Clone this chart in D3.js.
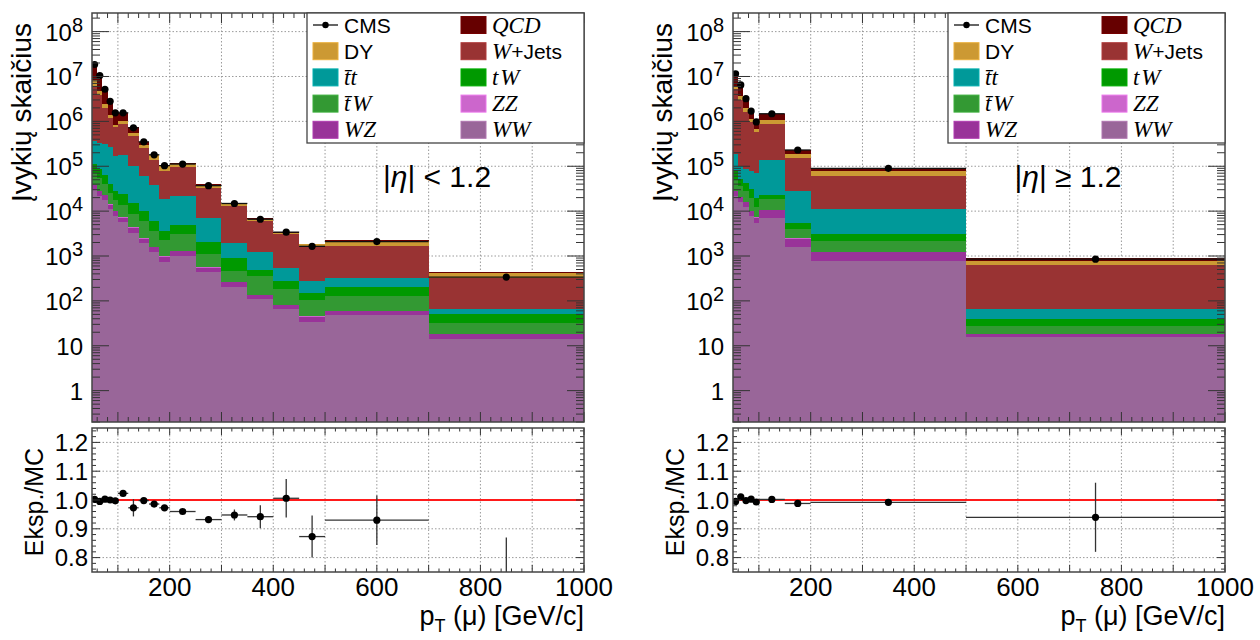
<!DOCTYPE html>
<html>
<head>
<meta charset="utf-8">
<script src="https://cdn.jsdelivr.net/npm/d3@7/dist/d3.min.js"></script>
<style>
html,body{margin:0;padding:0;background:#fff;}
svg text{font-family:"Liberation Sans",Arial,sans-serif;fill:#000;}
</style>
</head>
<body>
<svg id="chart" width="1260" height="640"></svg>
<script>
// ================= DATA =================
const processKeys = ["WW","WZ","ZZ","tbarW","tW","tt","WJets","DY","QCD"];

// |eta| < 1.2
const centralEdges = [50,60,70,80,90,100,120,140,160,180,200,250,300,350,400,450,500,700,1000];
const centralWW    = [30000,22000,18000,11000,7900,5600,3300,1900,1200,740,1000,430,200,110,66,34,49,14];
const centralWZ    = [7800,5800,4600,2900,2100,1600,970,550,350,215,290,120,57,25,15,10,11,4];
const centralZZ    = [700,500,400,300,200,150,90,50,30,20,25,12,6,3,2,1,1,0.4];
const centralTbarW = [32000,27000,17000,11000,7600,6100,4100,3500,2050,1350,1700,540,205,225,100,57,68,14];
const centralTW    = [41000,33000,23000,15000,10000,10500,7000,4000,2400,1300,1900,900,440,116,93,46,75,18];
const centralTT    = [250000,240000,250000,235000,140000,158000,85000,50000,33000,14600,16500,5100,1090,750,275,134,112,15];
const centralWJets = [5.7e6,3.6e6,1.7e6,9.3e5,5.9e5,6.7e5,3.7e5,2.0e5,1.02e5,61000,74000,26000,10900,4800,2540,1380,1340,266];
const centralDY    = [2.5e6,7.9e5,4.5e5,2.1e5,9e4,1.5e5,82000,45000,33000,21000,16500,5800,2200,730,220,200,530,96];
const centralQCD   = [1.0e7,5.8e6,2.7e6,1.35e6,7e5,5.1e5,1.91e5,49000,8000,6000,5500,900,400,240,80,20,70,20];
const centralData  = [1.85e7,1.05e7,5.2e6,2.8e6,1.55e6,1.55e6,7.2e5,3.5e5,1.8e5,1.03e5,1.12e5,3.7e4,1.48e4,6600,3400,1640,2100,340];
const centralRatio    = [1.002,0.995,1.003,1.0,0.997,1.023,0.973,0.998,0.986,0.973,0.96,0.932,0.948,0.942,1.006,0.873,0.93,0.73];
const centralRatioErr = [0.003,0.003,0.003,0.004,0.004,0.005,0.03,0.006,0.007,0.008,0.008,0.012,0.019,0.04,0.067,0.073,0.086,0.14];

// |eta| >= 1.2
const forwardEdges = [50,60,70,80,90,100,150,200,500,1000];
const forwardWW    = [22000,16000,12600,7900,5400,7100,1620,790,15.5];
const forwardWZ    = [5800,4150,3250,2060,1700,3400,720,410,2.7];
const forwardZZ    = [600,400,300,200,170,250,230,30,0.3];
const forwardTbarW = [21000,15000,12000,9750,5350,7500,1500,910,9];
const forwardTW    = [29000,17000,13500,11650,7350,5200,1430,880,11.4];
const forwardTT    = [111000,47500,45000,48000,51000,112000,22000,7900,27];
const forwardWJets = [5.1e6,2.9e6,1.57e6,8.8e5,5.0e5,7.2e5,1.28e5,49300,565];
const forwardDY    = [9.2e5,6.1e5,3.8e5,1.65e5,1.0e5,2.0e5,35500,17300,145];
const forwardQCD   = [5.4e6,2.8e6,1.16e6,5.8e5,3.0e5,4.3e5,42500,13200,126];
const forwardData  = [1.15e7,6.5e6,3.2e6,1.7e6,9.7e5,1.48e6,2.3e5,9.0e4,850];
const forwardRatio    = [0.995,1.011,0.998,1.003,0.993,1.002,0.988,0.992,0.94];
const forwardRatioErr = [0.002,0.002,0.002,0.003,0.003,0.003,0.004,0.008,0.12];

// tick labels
const xTickLabels = [200,400,600,800,1000];
const yTickDecades = [1,10,100,1e3,1e4,1e5,1e6,1e7,1e8];
const ratioTickLabels = [0.8,0.9,1.0,1.1,1.2];
const etaLabels = ["< 1.2", "\u2265 1.2"];
const legendCol1 = ["CMS","DY","tt","tbarW","WZ"];
const legendCol2 = ["QCD","WJets","tW","ZZ","WW"];

// ================= STYLE =================
const processColors = {
  WW:"#996699", WZ:"#993399", ZZ:"#cc66cc", tbarW:"#339933", tW:"#009900",
  tt:"#009999", WJets:"#993333", DY:"#cc9933", QCD:"#660000"
};
const SANS = '"Liberation Sans", Arial, sans-serif';
const SERIF = '"Liberation Serif", "Times New Roman", serif';
const X_DOMAIN = [50, 1000];
const Y_DOMAIN = [0.2, 2.6e8];
const R_DOMAIN = [0.75, 1.25];
const TOP = {y0: 13, y1: 422};
const BOT = {y0: 428, y1: 572};
const FRAME = "#444";

const svg = d3.select("#chart");
const defs = svg.append("defs");

function legendLabel(t, key) {
  const it = (s) => t.append("tspan").attr("font-family", SERIF).attr("font-style","italic").attr("font-size",23).text(s);
  const sn = (s) => t.append("tspan").attr("font-family", SANS).attr("font-size",21).text(s);
  switch (key) {
    case "CMS": sn("CMS"); break;
    case "DY": sn("DY"); break;
    case "tt": it("t\u0304t"); break;
    case "tbarW": it("t\u0304\u200AW"); break;
    case "WZ": it("WZ"); break;
    case "QCD": it("QCD"); break;
    case "WJets": it("W"); sn("+Jets"); break;
    case "tW": it("t\u200AW"); break;
    case "ZZ": it("ZZ"); break;
    case "WW": it("WW"); break;
  }
}

function drawPanel(p) {
  const x = d3.scaleLinear().domain(X_DOMAIN).range([p.left, p.right]);
  const y = d3.scaleLog().domain(Y_DOMAIN).range([TOP.y1, TOP.y0]);
  const yr = d3.scaleLinear().domain(R_DOMAIN).range([BOT.y1, BOT.y0]);
  const g = svg.append("g");
  const W = p.right - p.left;

  defs.append("clipPath").attr("id", p.id + "Top").append("rect")
    .attr("x", p.left).attr("y", TOP.y0).attr("width", W).attr("height", TOP.y1 - TOP.y0);
  defs.append("clipPath").attr("id", p.id + "Bot").append("rect")
    .attr("x", p.left).attr("y", BOT.y0).attr("width", W).attr("height", BOT.y1 - BOT.y0);

  const gridV = d3.range(100, 1000, 100);
  const gridStyle = s => s.attr("stroke", "#9a9a9a").attr("stroke-width", 1).attr("stroke-dasharray", "1.5,2");

  // ---- top grid ----
  g.append("g").selectAll("line").data(gridV).join("line")
    .attr("x1", d => x(d)).attr("x2", d => x(d)).attr("y1", TOP.y0).attr("y2", TOP.y1).call(gridStyle);
  g.append("g").selectAll("line").data(yTickDecades).join("line")
    .attr("x1", p.left).attr("x2", p.right).attr("y1", d => y(d)).attr("y2", d => y(d)).call(gridStyle);

  // ---- stacked histogram ----
  const rows = d3.range(p.edges.length - 1).map(i => {
    const o = {};
    processKeys.forEach(k => o[k] = p.series[k][i]);
    return o;
  });
  const stacked = d3.stack().keys(processKeys)(rows);
  const lo = Y_DOMAIN[0];
  g.append("g").attr("clip-path", `url(#${p.id}Top)`)
    .selectAll("g").data(stacked).join("g")
    .attr("fill", d => processColors[d.key])
    .selectAll("rect").data(d => d).join("rect")
    .attr("shape-rendering", "crispEdges")
    .attr("x", (d, i) => x(p.edges[i]))
    .attr("width", (d, i) => x(p.edges[i + 1]) - x(p.edges[i]))
    .attr("y", d => y(Math.max(d[1], lo)))
    .attr("height", d => Math.max(0, y(Math.max(d[0], lo)) - y(Math.max(d[1], lo))));

  // ---- data points ----
  const pts = p.data.map((v, i) => ({v, a: p.edges[i], b: p.edges[i + 1]}));
  const gd = g.append("g").attr("clip-path", `url(#${p.id}Top)`);
  gd.selectAll("line").data(pts).join("line")
    .attr("x1", d => x(d.a)).attr("x2", d => x(d.b))
    .attr("y1", d => y(d.v)).attr("y2", d => y(d.v))
    .attr("stroke", "#111").attr("stroke-width", 1.3);
  gd.selectAll("circle").data(pts).join("circle")
    .attr("cx", d => x((d.a + d.b) / 2)).attr("cy", d => y(d.v)).attr("r", 3.6).attr("fill", "#000");

  // ---- top ticks ----
  const tk = (sel) => sel.attr("stroke", "#333").attr("stroke-width", 1);
  const minorX = d3.range(60, 1000, 20).filter(v => v % 100 !== 0);
  const majorX = d3.range(100, 1001, 100);
  const tg = g.append("g");
  function xTicks(vals, yEdge, len) {
    tg.append("g").selectAll("line").data(vals).join("line")
      .attr("x1", d => x(d)).attr("x2", d => x(d)).attr("y1", yEdge).attr("y2", yEdge + len).call(tk);
  }
  xTicks(majorX, TOP.y1, -10); xTicks(minorX, TOP.y1, -5);
  xTicks(majorX, TOP.y0, 10); xTicks(minorX, TOP.y0, 5);
  const minorY = [];
  for (let e = -1; e <= 8; e++) for (let m = 2; m <= 9; m++) {
    const v = m * Math.pow(10, e);
    if (v >= Y_DOMAIN[0] && v <= Y_DOMAIN[1]) minorY.push(v);
  }
  function yTicks(vals, xEdge, len) {
    tg.append("g").selectAll("line").data(vals).join("line")
      .attr("x1", xEdge).attr("x2", xEdge + len).attr("y1", d => y(d)).attr("y2", d => y(d)).call(tk);
  }
  yTicks(yTickDecades, p.left, 17); yTicks(minorY, p.left, 8);
  yTicks(yTickDecades, p.right, -17); yTicks(minorY, p.right, -8);

  g.append("rect").attr("x", p.left).attr("y", TOP.y0).attr("width", W).attr("height", TOP.y1 - TOP.y0)
    .attr("fill", "none").attr("stroke", FRAME).attr("stroke-width", 1.5);

  // y tick labels
  const yl = g.append("g").selectAll("text").data(yTickDecades).join("text")
    .attr("x", p.left - 9).attr("y", d => y(d) + 9).attr("text-anchor", "end").attr("font-size", 24);
  yl.each(function(d) {
    const t = d3.select(this);
    const e = Math.round(Math.log10(d));
    if (e === 0) t.text("1");
    else if (e === 1) t.text("10");
    else {
      t.append("tspan").text("10");
      t.append("tspan").attr("dy", -9).attr("font-size", 20).text(e);
    }
  });

  // y title
  g.append("text").attr("transform", `translate(${p.left - 61},23) rotate(-90)`)
    .attr("text-anchor", "end").attr("font-size", 28).text("\u012Evyki\u0173 skai\u010Dius");

  // ---- legend ----
  const lg = g.append("g");
  lg.append("rect").attr("x", p.legendX).attr("y", TOP.y0).attr("width", p.right - p.legendX).attr("height", 130)
    .attr("fill", "#fff").attr("stroke", FRAME).attr("stroke-width", 1.3);
  const cols = [legendCol1, legendCol2];
  cols.forEach((col, ci) => {
    const sx = p.legendX + 6 + ci * 148;
    col.forEach((key, ri) => {
      const cy = 25 + ri * 26.2;
      if (key === "CMS") {
        lg.append("line").attr("x1", sx).attr("x2", sx + 25).attr("y1", cy).attr("y2", cy).attr("stroke", "#111").attr("stroke-width", 1.3);
        lg.append("circle").attr("cx", sx + 12.5).attr("cy", cy).attr("r", 3.2).attr("fill", "#000");
      } else {
        lg.append("rect").attr("x", sx).attr("y", cy - 8.5).attr("width", 25).attr("height", 17)
          .attr("fill", processColors[key]).attr("stroke", d3.color(processColors[key]).brighter(0.4)).attr("stroke-width", 1);
      }
      const t = lg.append("text").attr("x", sx + 31).attr("y", cy + 7.5);
      legendLabel(t, key);
    });
  });

  // eta label
  const et = g.append("text").attr("x", p.etaX).attr("y", 187).attr("text-anchor", "middle")
    .attr("font-family", SERIF).attr("font-size", 30);
  et.append("tspan").text("|");
  et.append("tspan").attr("font-style", "italic").text("\u03B7");
  et.append("tspan").text("| " + p.eta);

  // ================= ratio panel =================
  const rg = g.append("g");
  rg.append("g").selectAll("line").data(gridV).join("line")
    .attr("x1", d => x(d)).attr("x2", d => x(d)).attr("y1", BOT.y0).attr("y2", BOT.y1).call(gridStyle);
  rg.append("g").selectAll("line").data(ratioTickLabels).join("line")
    .attr("x1", p.left).attr("x2", p.right).attr("y1", d => yr(d)).attr("y2", d => yr(d)).call(gridStyle);
  rg.append("line").attr("x1", p.left).attr("x2", p.right).attr("y1", yr(1)).attr("y2", yr(1))
    .attr("stroke", "#ff1a1a").attr("stroke-width", 2.2);

  const rpts = p.ratio.map((r, i) => ({r, e: p.ratioErr[i], a: p.edges[i], b: p.edges[i + 1]}));
  const rgc = rg.append("g").attr("clip-path", `url(#${p.id}Bot)`);
  rgc.selectAll("line.h").data(rpts.filter(d => d.r >= R_DOMAIN[0] && d.r <= R_DOMAIN[1])).join("line")
    .attr("class", "h")
    .attr("x1", d => x(d.a)).attr("x2", d => x(d.b)).attr("y1", d => yr(d.r)).attr("y2", d => yr(d.r))
    .attr("stroke", "#333").attr("stroke-width", 1.3);
  rgc.selectAll("line.v").data(rpts).join("line")
    .attr("class", "v")
    .attr("x1", d => x((d.a + d.b) / 2)).attr("x2", d => x((d.a + d.b) / 2))
    .attr("y1", d => yr(d.r - d.e)).attr("y2", d => yr(d.r + d.e))
    .attr("stroke", "#333").attr("stroke-width", 1.3);
  rgc.selectAll("circle").data(rpts.filter(d => d.r >= R_DOMAIN[0] && d.r <= R_DOMAIN[1])).join("circle")
    .attr("cx", d => x((d.a + d.b) / 2)).attr("cy", d => yr(d.r)).attr("r", 3.6).attr("fill", "#000");

  const rt = rg.append("g");
  function rxTicks(vals, yEdge, len) {
    rt.append("g").selectAll("line").data(vals).join("line")
      .attr("x1", d => x(d)).attr("x2", d => x(d)).attr("y1", yEdge).attr("y2", yEdge + len).call(tk);
  }
  rxTicks(majorX, BOT.y1, -7); rxTicks(minorX, BOT.y1, -3.5);
  rxTicks(majorX, BOT.y0, 7); rxTicks(minorX, BOT.y0, 3.5);
  const rMinor = d3.range(0.76, 1.25, 0.02).filter(v => Math.abs(v * 10 - Math.round(v * 10)) > 0.01);
  function ryTicks(vals, xEdge, len) {
    rt.append("g").selectAll("line").data(vals).join("line")
      .attr("x1", xEdge).attr("x2", xEdge + len).attr("y1", d => yr(d)).attr("y2", d => yr(d)).call(tk);
  }
  ryTicks(ratioTickLabels, p.left, 8); ryTicks(rMinor, p.left, 4);
  ryTicks(ratioTickLabels, p.right, -8); ryTicks(rMinor, p.right, -4);

  rg.append("rect").attr("x", p.left).attr("y", BOT.y0).attr("width", W).attr("height", BOT.y1 - BOT.y0)
    .attr("fill", "none").attr("stroke", FRAME).attr("stroke-width", 1.5);

  rg.append("g").selectAll("text").data(ratioTickLabels).join("text")
    .attr("x", p.left - 4).attr("y", d => yr(d) + 8.5).attr("text-anchor", "end").attr("font-size", 24)
    .text(d => d.toFixed(1));
  rg.append("g").selectAll("text").data(xTickLabels).join("text")
    .attr("x", d => x(d)).attr("y", 596).attr("text-anchor", "middle").attr("font-size", 26)
    .text(d => d);

  rg.append("text").attr("transform", `translate(${p.left - 49},502) rotate(-90)`)
    .attr("text-anchor", "middle").attr("font-size", 25).text("Eksp./MC");

  const xt = rg.append("text").attr("x", p.right).attr("y", 625).attr("text-anchor", "end").attr("font-size", 27);
  xt.append("tspan").text("p");
  xt.append("tspan").attr("font-size", 18).attr("dy", 7).text("T");
  xt.append("tspan").attr("dy", -7).text(" (\u03BC) [GeV/c]");
}

drawPanel({
  id: "central", left: 92, right: 584, legendX: 307, etaX: 437, eta: etaLabels[0],
  edges: centralEdges,
  series: {WW: centralWW, WZ: centralWZ, ZZ: centralZZ, tbarW: centralTbarW, tW: centralTW,
           tt: centralTT, WJets: centralWJets, DY: centralDY, QCD: centralQCD},
  data: centralData, ratio: centralRatio, ratioErr: centralRatioErr
});
drawPanel({
  id: "forward", left: 733, right: 1225, legendX: 948, etaX: 1068, eta: etaLabels[1],
  edges: forwardEdges,
  series: {WW: forwardWW, WZ: forwardWZ, ZZ: forwardZZ, tbarW: forwardTbarW, tW: forwardTW,
           tt: forwardTT, WJets: forwardWJets, DY: forwardDY, QCD: forwardQCD},
  data: forwardData, ratio: forwardRatio, ratioErr: forwardRatioErr
});
</script>
</body>
</html>
